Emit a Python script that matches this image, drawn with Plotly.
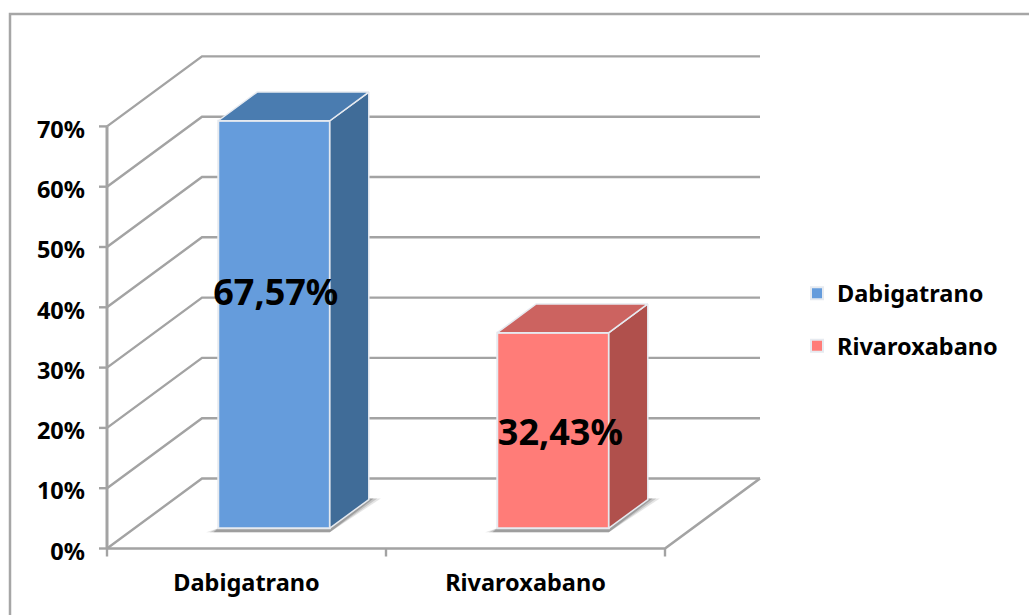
import plotly.graph_objects as go

categories = ["Dabigatrano", "Rivaroxabano"]
values = [67.57, 32.43]
value_labels = ["67,57%", "32,43%"]
label_heights = [41.8, 18.7]
label_shift = [0.105, 0.125]
y_ticks = [0, 10, 20, 30, 40, 50, 60, 70]
y_tick_labels = ["0%", "10%", "20%", "30%", "40%", "50%", "60%", "70%"]
front_colors = ["#659CDC", "#FF7C78"]
top_colors = ["#4A7CB0", "#CC6360"]
side_colors = ["#406C98", "#B0504C"]

W, H = 1029, 615
X0, Y0 = 107, 548.5   # pixel position of the chart origin
L, R, T, B = 98, 770, 45, 562  # plot area, a little larger than the box so edges are not clipped
PX_X = 279.0   # pixels per category
PX_Y = 6.03    # pixels per percent
DX = 95 / PX_X
DY = 70 / PX_Y
D0, D1 = 0.29, 0.70
BAR_W = 0.40
GRID = "#A3A3A3"
FONT = "Noto Sans"


def proj(x, v, d):
    return x + d * DX, v + d * DY


def poly(points):
    xs = [p[0] for p in points] + [points[0][0]]
    ys = [p[1] for p in points] + [points[0][1]]
    return xs, ys


traces = []


def line(points, width=2.5):
    xs, ys = zip(*points)
    traces.append(go.Scatter(x=xs, y=ys, mode="lines", showlegend=False, hoverinfo="skip",
                             line=dict(color=GRID, width=width), xaxis="x", yaxis="y"))


n = len(categories)
for t in y_ticks:
    line([proj(0, t, 0), proj(0, t, 1), proj(n, t, 1)], width=2.4)
    line([(-8 / PX_X, t), (0, t)], width=2.4)
line([(0, 0), (0, y_ticks[-1])], width=3)
line([(0, 0), (n, 0), proj(n, 0, 1)], width=2.6)
for i in range(n + 1):
    line([(i, 0), (i, -8 / PX_Y)], width=2.4)

# soft shadows on the floor, under the overlay subplot
for i in range(n):
    cx = i + 0.5 + D0 * DX
    base = D0 * DY
    x0, x1 = cx - BAR_W / 2, cx + BAR_W / 2
    for grow, alpha in [(1.0, 0.14), (0.7, 0.2), (0.4, 0.3)]:
        sx, sy = poly([
            (x0 - grow * 12 / PX_X, base - 4 / PX_Y),
            (x1, base - 4 / PX_Y),
            (x1 + (D1 - D0) * DX + grow * 12 / PX_X, base + (D1 - D0) * DY + 1 / PX_Y),
            (x1 + (D1 - D0) * DX, base + (D1 - D0) * DY + 1 / PX_Y),
            (x0, base),
        ])
        traces.append(go.Scatter(x=sx, y=sy, mode="lines", fill="toself", showlegend=False,
                                 hoverinfo="skip", line=dict(width=0),
                                 fillcolor=f"rgba(70,70,70,{alpha})", xaxis="x", yaxis="y"))

# bars sit on the overlay subplot so they cover the gridlines
for i, (c, v) in enumerate(zip(categories, values)):
    cx = i + 0.5 + D0 * DX
    base = D0 * DY
    traces.append(go.Bar(x=[cx], y=[v], base=[base], width=[BAR_W], name=c,
                         marker=dict(color=front_colors[i], line=dict(color="#E6EAF0", width=2)),
                         legendgroup=c, hoverinfo="skip", xaxis="x2", yaxis="y2"))
    x0, x1 = cx - BAR_W / 2, cx + BAR_W / 2
    top = base + v
    ddx, ddy = (D1 - D0) * DX, (D1 - D0) * DY
    sx, sy = poly([(x1, base), (x1 + ddx, base + ddy), (x1 + ddx, top + ddy), (x1, top)])
    traces.append(go.Scatter(x=sx, y=sy, mode="lines", fill="toself", fillcolor=side_colors[i],
                             line=dict(color="#E6EAF0", width=1.5), showlegend=False, hoverinfo="skip",
                             xaxis="x2", yaxis="y2"))
    sx, sy = poly([(x0, top), (x1, top), (x1 + ddx, top + ddy), (x0 + ddx, top + ddy)])
    traces.append(go.Scatter(x=sx, y=sy, mode="lines", fill="toself", fillcolor=top_colors[i],
                             line=dict(color="#E6EAF0", width=1.5), showlegend=False, hoverinfo="skip",
                             xaxis="x2", yaxis="y2"))
traces.append(go.Scatter(
    x=[i + 0.5 + s for i, s in enumerate(label_shift)], y=label_heights,
    mode="text", text=value_labels, showlegend=False, hoverinfo="skip", cliponaxis=False,
    textfont=dict(family=FONT, size=36, color="black", weight="bold"),
    xaxis="x2", yaxis="y2"))

x_range = [(L - X0) / PX_X, (R - X0) / PX_X]
y_range = [(Y0 - B) / PX_Y, (Y0 - T) / PX_Y]
fig = go.Figure(traces)
fig.update_layout(
    width=W, height=H, margin=dict(l=L, r=W - R, t=T, b=H - B, pad=0),
    paper_bgcolor="white", plot_bgcolor="rgba(0,0,0,0)", barmode="overlay",
    font=dict(family=FONT, size=23.5, color="black", weight="bold"),
    xaxis=dict(range=x_range, tickvals=[i + 0.5 for i in range(n)], ticktext=categories,
               showgrid=False, zeroline=False, showline=False, ticks="", ticklabelstandoff=4),
    yaxis=dict(range=y_range, tickvals=[t - 3 / PX_Y for t in y_ticks], ticktext=y_tick_labels,
               showgrid=False, zeroline=False, showline=False, ticks="", ticklabelstandoff=12),
    xaxis2=dict(range=x_range, overlaying="x", visible=False),
    yaxis2=dict(range=y_range, overlaying="y", visible=False),
    legend=dict(x=(797 - L) / (R - L), xanchor="left", y=(B - 320) / (B - T), yanchor="middle",
                tracegroupgap=19, font=dict(family=FONT, size=23.5, weight="bold"), bgcolor="rgba(0,0,0,0)"),
    shapes=[dict(type="rect", xref="paper", yref="paper",
                 x0=(10 - L) / (R - L), x1=(W + 5 - L) / (R - L),
                 y0=(B - H - 5) / (B - T), y1=(B - 14) / (B - T),
                 line=dict(color="#A6A6A6", width=2.5), layer="below")],
)
fig.write_html("out.html", post_script="document.body.style.margin='0';",
               config={"displayModeBar": False})
